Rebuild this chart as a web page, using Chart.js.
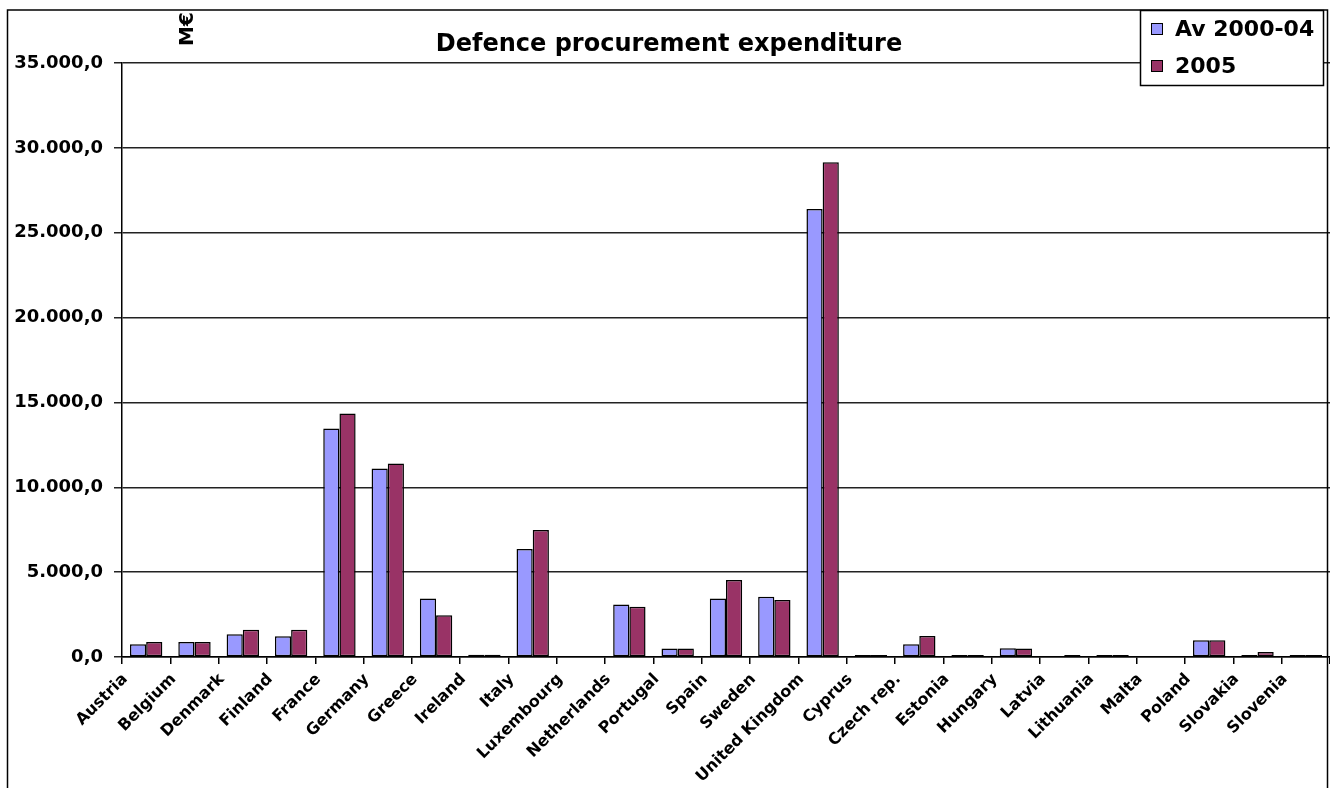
<!DOCTYPE html>
<html>
<head>
<meta charset="utf-8">
<title>Defence procurement expenditure</title>
<script src="https://cdn.jsdelivr.net/npm/chart.js@4.4.0/dist/chart.umd.min.js"></script>
<style>
  html, body { margin: 0; padding: 0; background: #fff; }
  #wrap { width: 1330px; height: 788px; position: relative; }
</style>
</head>
<body>
<div id="wrap"><canvas id="chart"></canvas></div>
<script>
// EU defence procurement, M€
const countries = [
  'Austria', 'Belgium', 'Denmark', 'Finland', 'France', 'Germany', 'Greece',
  'Ireland', 'Italy', 'Luxembourg', 'Netherlands', 'Portugal', 'Spain', 'Sweden',
  'United Kingdom', 'Cyprus', 'Czech rep.', 'Estonia', 'Hungary', 'Latvia',
  'Lithuania', 'Malta', 'Poland', 'Slovakia', 'Slovenia'
];
const avg2000to04 = [
  750, 880, 1340, 1220, 13470, 11110, 3450,
  130, 6360, 0, 3100, 500, 3450, 3550,
  26400, 120, 750, 120, 520, 0,
  120, 0, 980, 120, 120
];
const spend2005 = [
  890, 880, 1610, 1610, 14350, 11400, 2460,
  130, 7480, 0, 2960, 500, 4530, 3360,
  29150, 120, 1240, 120, 500, 120,
  120, 0, 980, 290, 120
];
const yTickLabels = ['0,0', '5.000,0', '10.000,0', '15.000,0', '20.000,0', '25.000,0', '30.000,0', '35.000,0'];

const FONT = "'DejaVu Sans', sans-serif";
const BLUE = '#9999ff';
const PLUM = '#993366';

// white page, unit label, boxed legend and outer frame
const framePlugin = {
  id: 'frame',
  beforeDraw(chart) {
    const ctx = chart.ctx;
    ctx.save();
    ctx.fillStyle = '#fff';
    ctx.fillRect(0, 0, chart.width, chart.height);
    ctx.restore();
  },
  afterDraw(chart) {
    const ctx = chart.ctx;
    ctx.save();

    // unit, written upwards
    ctx.translate(188, 29);
    ctx.rotate(-Math.PI / 2);
    ctx.font = 'bold 20px ' + FONT;
    ctx.fillStyle = '#000';
    ctx.textAlign = 'center';
    ctx.textBaseline = 'middle';
    ctx.fillText('M€', 0, 0);
    ctx.setTransform(1, 0, 0, 1, 0, 0);

    // legend box
    const bx = 1140.5, by = 10.5, bw = 183, bh = 75;
    ctx.fillStyle = '#fff';
    ctx.fillRect(bx, by, bw, bh);
    ctx.strokeStyle = '#000';
    ctx.lineWidth = 1.5;
    ctx.strokeRect(bx, by, bw, bh);
    ctx.font = 'bold 22px ' + FONT;
    ctx.textAlign = 'left';
    ctx.textBaseline = 'middle';
    chart.data.datasets.forEach((ds, i) => {
      const cy = 29 + i * 37;
      ctx.fillStyle = ds.backgroundColor;
      ctx.fillRect(1151, cy - 6, 12, 12);
      ctx.lineWidth = 1;
      ctx.strokeStyle = '#000';
      ctx.strokeRect(1151.5, cy - 5.5, 11, 11);
      ctx.fillStyle = '#000';
      ctx.fillText(ds.label, 1175, cy + 1);
    });

    // outer frame
    ctx.lineWidth = 1.5;
    ctx.strokeStyle = '#000';
    ctx.strokeRect(7.5, 10, 1320, 800);
    ctx.restore();
  }
};

const barStyle = {
  borderColor: '#000',
  borderWidth: 1.5,
  borderSkipped: false,
  categoryPercentage: 0.67,
  barPercentage: 1.0
};

new Chart(document.getElementById('chart'), {
  type: 'bar',
  data: {
    labels: countries,
    datasets: [
      Object.assign({ label: 'Av 2000-04', data: avg2000to04, backgroundColor: BLUE }, barStyle),
      Object.assign({ label: '2005', data: spend2005, backgroundColor: PLUM }, barStyle)
    ]
  },
  options: {
    responsive: true,
    maintainAspectRatio: false,
    animation: false,
    layout: { padding: { left: 8, top: 10, right: 0, bottom: 0 } },
    plugins: {
      legend: { display: false },
      tooltip: { enabled: false },
      title: {
        display: true,
        text: 'Defence procurement expenditure',
        color: '#000',
        font: { family: FONT, size: 24, weight: 'bold' },
        padding: { top: 20, bottom: 4.2 }
      }
    },
    scales: {
      x: {
        offset: true,
        grid: {
          offset: true,
          drawOnChartArea: false,
          drawTicks: true,
          tickLength: 7,
          color: '#000',
          lineWidth: 1.5
        },
        border: { color: '#000', width: 1.5 },
        ticks: {
          autoSkip: false,
          minRotation: 45,
          maxRotation: 45,
          padding: 6,
          labelOffset: -21,
          color: '#000',
          font: { family: FONT, size: 16, weight: 'bold' }
        },
        afterFit(scale) { scale.height = 131; }
      },
      y: {
        min: 0,
        max: 35000,
        ticks: {
          stepSize: 5000,
          padding: 11,
          color: '#000',
          font: { family: FONT, size: 18, weight: 'bold' },
          callback: (value, index) => yTickLabels[index]
        },
        grid: { color: '#222', lineWidth: 1.5, tickLength: 8 },
        border: { color: '#000', width: 1.5 },
        afterFit(scale) { scale.width = 114; }
      }
    }
  },
  plugins: [framePlugin]
});
</script>
</body>
</html>
